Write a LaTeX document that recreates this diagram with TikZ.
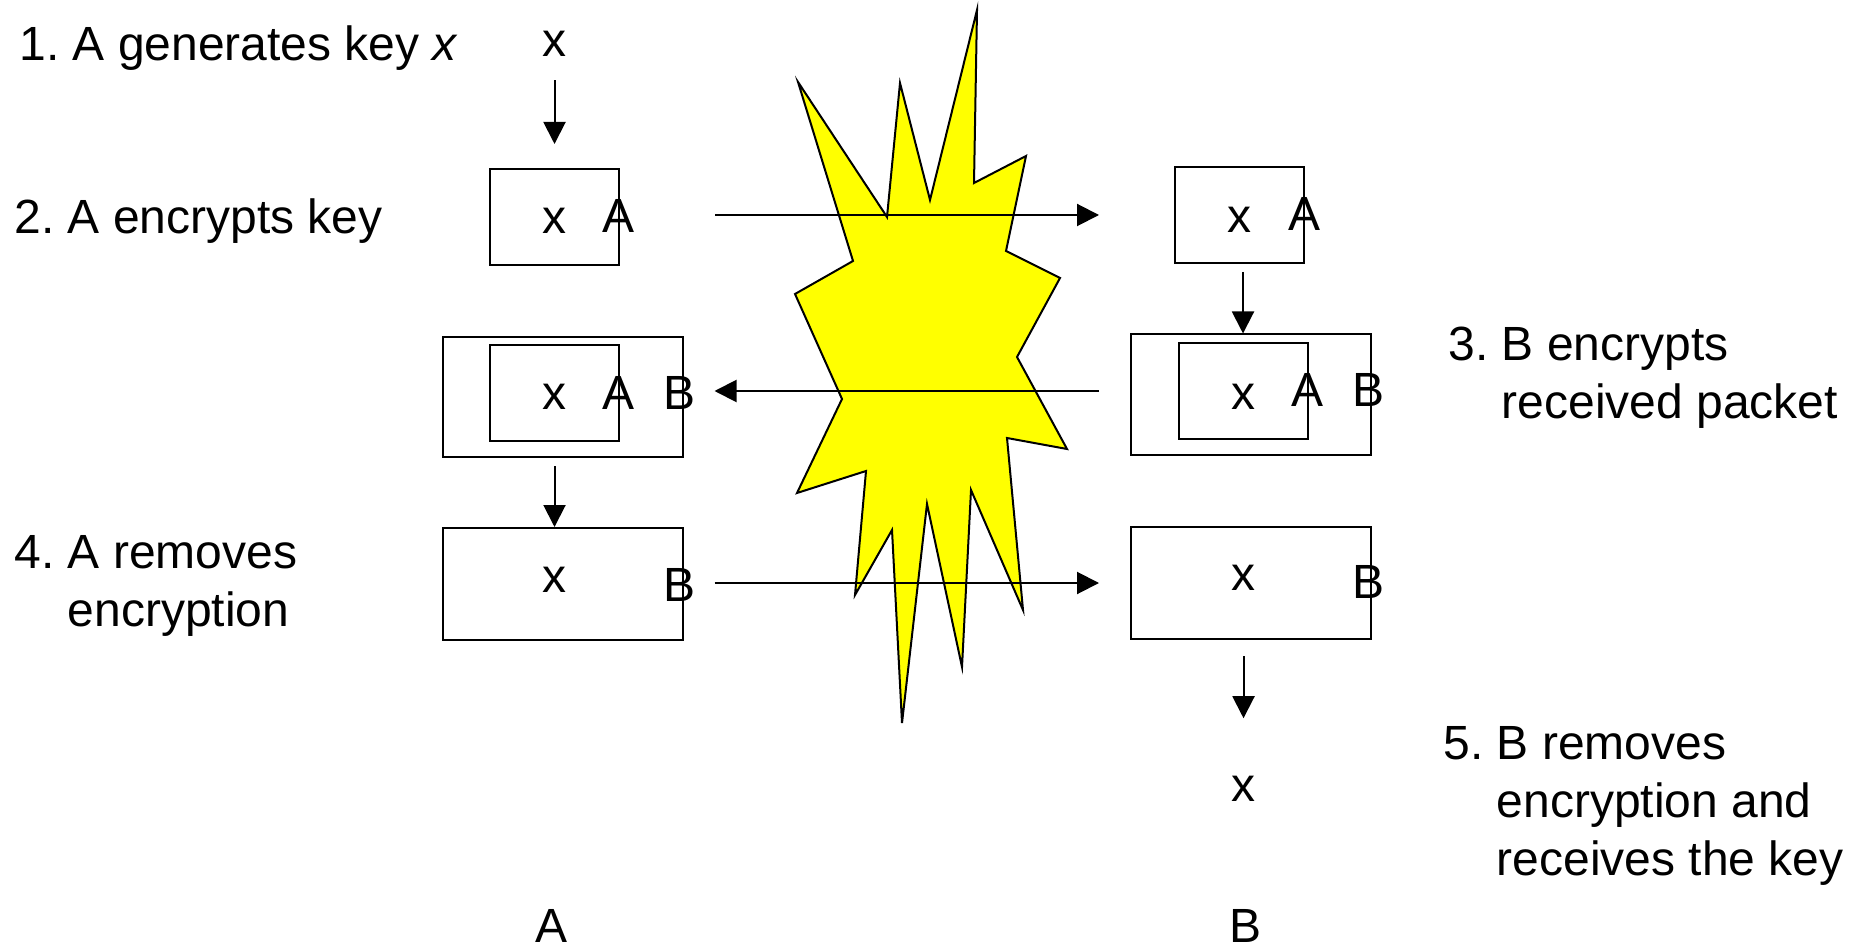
\documentclass[tikz,border=0pt]{standalone}
\usepackage{fontspec}
\setmainfont{Liberation Sans}
\usetikzlibrary{arrows.meta}
\definecolor{blastYellow}{RGB}{255, 255, 0}
\frenchspacing
\tikzset{
  BigText/.style   = {inner sep=0pt, anchor=base, font=\fontsize{24}{29}\selectfont},
  StepText/.style  = {BigText, anchor=base west, align=left},
  SmallBox/.style  = {draw, line width=1pt, minimum width=64.5pt, minimum height=48pt},
  WideBox/.style   = {draw, line width=1pt, minimum width=120pt, minimum height=60pt},
  LowBox/.style    = {draw, line width=1pt, minimum width=120pt, minimum height=56pt},
  Blast/.style     = {draw, line width=1pt, fill=blastYellow},
  Flow/.style      = {line width=1pt, -{Triangle[length=11pt,width=11pt]}},
}
\begin{document}
\begin{tikzpicture}[x=0.5pt,y=-0.5pt]
  \useasboundingbox (0,0) rectangle (1856,946);
  % the burst in the middle
  \draw[Blast] (798,82) -- (887,217) -- (900,83) -- (930,200) -- (977,10) -- (974,183)
    -- (1026,156) -- (1006,251) -- (1060,278) -- (1017,357) -- (1067,449) -- (1007,438)
    -- (1023,610) -- (971,490) -- (962,667) -- (927,504) -- (902,723) -- (892,530)
    -- (855,595) -- (866,471) -- (797,493) -- (842,399) -- (795,294) -- (853,261) -- cycle;
  % boxes, side A
  \node[SmallBox] (boxAa) at (554.5,217) {};
  \node[WideBox]  (boxAb) at (562.5,397) {};
  \node[SmallBox] (boxAc) at (554.5,393) {};
  \node[LowBox]   (boxAd) at (562.5,584) {};
  % boxes, side B
  \node[SmallBox] (boxBa) at (1239.5,215) {};
  \node[WideBox]  (boxBb) at (1251,394.5) {};
  \node[SmallBox] (boxBc) at (1243,391) {};
  \node[LowBox]   (boxBd) at (1251,583) {};
  % letters
  \node[BigText] (keyTop) at (554,57) {x};
  \node[BigText] (keyAa) at (554.5,234) {x};
  \node[BigText] (lockAa) at (618.5,233) {A};
  \node[BigText] (keyAb) at (554.5,409) {x};
  \node[BigText] (lockAb) at (618.5,409) {A};
  \node[BigText] (lockAc) at (679.5,409) {B};
  \node[BigText] (keyAc) at (554.5,592) {x};
  \node[BigText] (lockAd) at (679.5,601) {B};
  \node[BigText] (keyBa) at (1239.5,233) {x};
  \node[BigText] (lockBa) at (1304,231) {A};
  \node[BigText] (keyBb) at (1243.5,409) {x};
  \node[BigText] (lockBb) at (1307,407) {A};
  \node[BigText] (lockBc) at (1368,407) {B};
  \node[BigText] (keyBc) at (1243.5,590) {x};
  \node[BigText] (lockBd) at (1368,598) {B};
  \node[BigText] (keyEnd) at (1243.5,801) {x};
  \node[BigText] (sideA) at (551.5,942) {A};
  \node[BigText] (sideB) at (1245.5,942) {B};
  % steps
  \node[StepText] (stepOne) at (19,61) {1. A generates key \textit{x}};
  \node[StepText] (stepTwo) at (14,234) {2. A encrypts key};
  \node[StepText] (stepThree) at (1448,418) {3. B encrypts\\\hphantom{3. }received packet};
  \node[StepText] (stepFour) at (14,626) {4. A removes\\\hphantom{4. }encryption};
  \node[StepText] (stepFive) at (1443,875) {5. B removes\\\hphantom{5. }encryption and\\\hphantom{5. }receives the key};
  % vertical arrows
  \draw[Flow, shorten <=11.5pt, shorten >=12pt] (keyTop.south -| boxAa.north) -- (boxAa.north);
  \draw[Flow, shorten <=4pt] (boxAb.south -| keyAb) -- (boxAd.north -| keyAb);
  \draw[Flow, shorten <=4pt] (boxBa.south -| boxBc) -- (boxBb.north -| boxBc);
  \draw[Flow, shorten <=8pt, shorten >=28.5pt] (boxBd.south -| keyEnd) -- (keyEnd.north);
  % across the burst
  \draw[Flow, shorten <=47.5pt, shorten >=37.5pt] ([yshift=1pt]boxAa.east) -- (boxBa.west);
  \draw[Flow, shorten <=15.5pt, shorten >=15.5pt] ([yshift=1.75pt]boxBb.west) -- ([yshift=3pt]boxAb.east);
  \draw[Flow, shorten <=15.5pt, shorten >=15.5pt] ([yshift=0.5pt]boxAd.east) -- (boxBd.west);
\end{tikzpicture}
\end{document}
